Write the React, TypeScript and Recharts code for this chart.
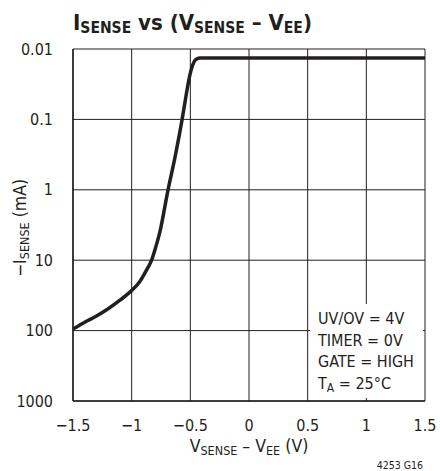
import React from 'react';
import {
  LineChart,
  Line,
  XAxis,
  YAxis,
  CartesianGrid,
} from 'recharts';

// V_SENSE - V_EE (V)
const vSense = [
  -1.5, -1.4, -1.3, -1.2, -1.1, -1.0, -0.93, -0.87, -0.83, -0.8, -0.76, -0.69, -0.63,
  -0.57, -0.54, -0.52, -0.5, -0.48, -0.46, -0.44, -0.42, -0.4, 0, 0.5, 1, 1.5,
];
// -I_SENSE (mA)
const iSense = [
  95, 76, 62, 49, 37, 27, 20, 13.5, 10, 7, 4, 1, 0.34,
  0.1, 0.05, 0.032, 0.022, 0.017, 0.0145, 0.0137, 0.0134, 0.0134, 0.0134, 0.0134, 0.0134, 0.0134,
];

const xTicks = [-1.5, -1, -0.5, 0, 0.5, 1, 1.5];
const yTicks = [0.01, 0.1, 1, 10, 100, 1000];
const notes = ['UV/OV = 4V', 'TIMER = 0V', 'GATE = HIGH'];

const font = '"Liberation Sans Narrow", "DejaVu Sans Condensed", "Liberation Sans", sans-serif';
const ink = '#231f20';

const data = vSense.map((v, i) => ({ v, i: iSense[i] }));

const fmtX = (v: number) => (v < 0 ? '\u2212' + String(-v) : String(v));
const fmtY = (v: number) => (v < 1 ? String(v) : String(Math.round(v)));

export default function App() {
  return (
    <div
      style={{
        position: 'absolute',
        left: 0,
        top: 0,
        width: 440,
        height: 471,
        background: '#fff',
        fontFamily: font,
        color: ink,
      }}
    >
      <LineChart
        width={440}
        height={471}
        data={data}
        margin={{ top: 49, right: 15, bottom: 0, left: 0 }}
      >
        <CartesianGrid stroke={ink} strokeWidth={1} fill="none" />
        <XAxis
          dataKey="v"
          type="number"
          domain={[-1.5, 1.5]}
          ticks={xTicks}
          tickFormatter={fmtX}
          height={70}
          tickLine={false}
          axisLine={{ stroke: ink, strokeWidth: 1.5 }}
          tick={{ fill: ink, fontSize: 16, fontFamily: font }}
          tickMargin={13}
        />
        <YAxis
          dataKey="i"
          type="number"
          scale="log"
          domain={[0.01, 1000]}
          reversed
          ticks={yTicks}
          tickFormatter={fmtY}
          width={73}
          tickLine={false}
          allowDataOverflow
          axisLine={{ stroke: ink, strokeWidth: 1.5 }}
          tick={{ fill: ink, fontSize: 16, fontFamily: font }}
          tickMargin={14}
        />
        <Line
          type="monotone"
          dataKey="i"
          stroke={ink}
          strokeWidth={3.5}
          dot={false}
          isAnimationActive={false}
        />
      </LineChart>

      <svg
        width={440}
        height={471}
        style={{ position: 'absolute', left: 0, top: 0, pointerEvents: 'none' }}
      >
        <text x={73} y={30} fontFamily={font} fontWeight="bold" fontSize={22} fill={ink}>
          I<tspan fontSize={15.5} dy={3}>SENSE</tspan>
          <tspan dy={-3}> vs (V</tspan>
          <tspan fontSize={15.5} dy={3}>SENSE</tspan>
          <tspan dy={-3}> – V</tspan>
          <tspan fontSize={15.5} dy={3}>EE</tspan>
          <tspan dy={-3}>)</tspan>
        </text>

        <text
          transform="translate(26 228) rotate(-90)"
          textAnchor="middle"
          fontFamily={font}
          fontSize={17.5}
          fill={ink}
        >
          −I<tspan fontSize={12.5} dy={3}>SENSE</tspan>
          <tspan dy={-3}> (mA)</tspan>
        </text>

        <text
          x={249}
          y={452}
          textAnchor="middle"
          fontFamily={font}
          fontSize={17.5}
          fill={ink}
        >
          V<tspan fontSize={12.5} dy={3}>SENSE</tspan>
          <tspan dy={-3}> – V</tspan>
          <tspan fontSize={12.5} dy={3}>EE</tspan>
          <tspan dy={-3}> (V)</tspan>
        </text>

        <text x={423} y={469} textAnchor="end" fontFamily={font} fontSize={10.5} fill={ink}>
          4253 G16
        </text>
      </svg>

      <div
        style={{
          position: 'absolute',
          left: 310,
          top: 304,
          width: 113,
          height: 94,
          background: '#fff',
          fontSize: 16,
          lineHeight: '21.5px',
          paddingLeft: 8,
          paddingTop: 4,
          boxSizing: 'border-box',
          whiteSpace: 'nowrap',
        }}
      >
        {notes.map((n) => (
          <div key={n}>{n}</div>
        ))}
        <div>
          T<sub style={{ fontSize: 12, verticalAlign: -3 }}>A</sub> = 25°C
        </div>
      </div>
    </div>
  );
}
